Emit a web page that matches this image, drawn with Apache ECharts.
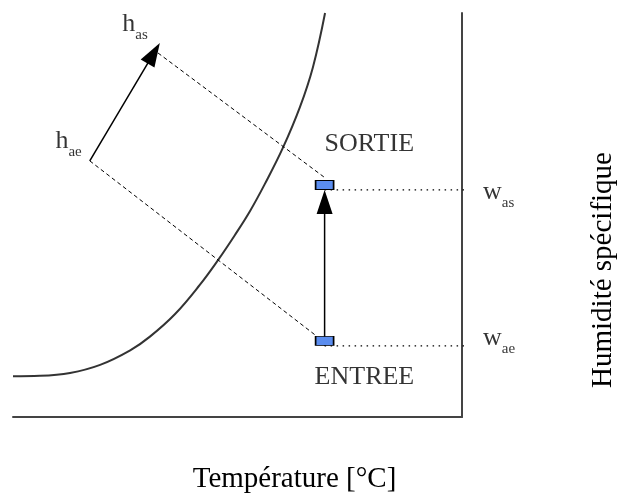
<!DOCTYPE html>
<html><head><meta charset="utf-8">
<script src="https://cdn.jsdelivr.net/npm/echarts@6/dist/echarts.min.js"></script>
<style>html,body{margin:0;padding:0;background:#fff}#c{width:618px;height:495px}</style>
</head><body><div id="c"></div>
<script>
// Saturation curve (temperature, specific humidity), schematic chart units
const saturationT = [0.0, 6.0, 12.7, 19.4, 26.1, 30.5, 36.1, 41.6, 45.7, 49.4, 52.8, 56.1, 60.1, 63.9, 66.8, 69.5];
const saturationW = [10.1, 10.2, 10.9, 12.9, 16.5, 19.9, 25.5, 32.7, 38.9, 45.0, 51.0, 57.7, 66.6, 76.7, 86.6, 100.0];
// Air states (same temperature)
const stateT = 69.4;
const wEntree = 17.6;
const wSortie = 56.2;
// Enthalpy points h_ae / h_as
const hEntree = [17.1, 63.4];
const hSortie = [32.7, 92.6];
// Constant-enthalpy dashed lines
const dashEntree = [[17.1, 63.4], [67.3, 20.3]];
const dashSortie = [[32.3, 90.1], [69.5, 59.2]];
// x where the humidity labels sit
const wLabelT = 102;

const FONT = "'Liberation Serif','Times New Roman',serif";
const rich = {
  m: { fontSize: 26, lineHeight: 26, fontFamily: FONT, color: '#000' },
  s: { fontSize: 15, lineHeight: 15, fontFamily: FONT, color: '#000', padding: [23, 0, 0, 0] }
};

const chart = echarts.init(document.getElementById('c'), null, { renderer: 'canvas' });
chart.setOption({
  animation: false,
  backgroundColor: '#fff',
  grid: { left: 13, right: 156, top: 13, bottom: 78, containLabel: false, outerBoundsMode: 'none' },
  xAxis: {
    type: 'value', min: 0, max: 100,
    name: 'Température [°C]', nameLocation: 'middle', nameGap: 48,
    nameTextStyle: { fontSize: 29, fontFamily: FONT, color: '#000', padding: [0, 0, 0, 114] },
    axisLine: { show: true, onZero: false, lineStyle: { color: '#444', width: 2 } },
    axisTick: { show: false }, axisLabel: { show: false }, splitLine: { show: false }
  },
  yAxis: {
    type: 'value', min: 0, max: 100, position: 'right',
    name: 'Humidité spécifique', nameLocation: 'middle', nameRotate: 90, nameGap: 127,
    nameTextStyle: { fontSize: 29, fontFamily: FONT, color: '#000', padding: [0, 110, 0, 0] },
    axisLine: { show: true, onZero: false, lineStyle: { color: '#444', width: 2 } },
    axisTick: { show: false }, axisLabel: { show: false }, splitLine: { show: false }
  },
  series: [
    {
      type: 'line', name: 'saturation', smooth: 0.4, clip: false, showSymbol: false, symbol: 'none',
      data: saturationT.map((t, i) => [t, saturationW[i]]),
      lineStyle: { color: '#333', width: 2 }
    },
    {
      type: 'line', clip: false, symbol: 'none', data: dashEntree,
      lineStyle: { color: '#000', width: 1, type: [4, 3] }
    },
    {
      type: 'line', clip: false, symbol: 'none', data: dashSortie,
      lineStyle: { color: '#000', width: 1, type: [4, 3] }
    },
    {
      type: 'line', clip: false, symbol: 'none', data: [[stateT, wSortie], [wLabelT, wSortie]],
      lineStyle: { color: '#000', width: 1.3, type: [1.5, 4.5] }
    },
    {
      type: 'line', clip: false, symbol: 'none', data: [[stateT, wEntree], [wLabelT, wEntree]],
      lineStyle: { color: '#000', width: 1.3, type: [1.5, 4.5] }
    },
    {
      type: 'custom', coordinateSystem: 'cartesian2d', clip: false, z: 4,
      data: [[hEntree[0], hEntree[1], hSortie[0], hSortie[1]], [stateT, wEntree, stateT, wSortie]],
      encode: { x: [0, 2], y: [1, 3] },
      renderItem: function (params, api) {
        const p1 = api.coord([api.value(0), api.value(1)]);
        const p2 = api.coord([api.value(2), api.value(3)]);
        const dx = p2[0] - p1[0], dy = p2[1] - p1[1];
        const L = Math.hypot(dx, dy), ux = dx / L, uy = dy / L;
        const len = 24, half = 8;
        const bx = p2[0] - ux * len, by = p2[1] - uy * len;
        return {
          type: 'group', children: [
            { type: 'line', shape: { x1: p1[0], y1: p1[1], x2: bx + ux * 2, y2: by + uy * 2 }, style: { stroke: '#000', lineWidth: 1.5 } },
            { type: 'polygon', shape: { points: [[p2[0], p2[1]], [bx - uy * half, by + ux * half], [bx + uy * half, by - ux * half]] }, style: { fill: '#000' } }
          ]
        };
      }
    },
    {
      type: 'scatter', z: 6, clip: false, symbol: 'rect', symbolSize: [18, 9], symbolOffset: [0, -5],
      data: [[stateT, wEntree], [stateT, wSortie]],
      itemStyle: { color: '#5B8DEF', borderColor: '#000', borderWidth: 1.2, opacity: 1 }
    },
    {
      type: 'scatter', z: 7, clip: false, symbolSize: 0, silent: true,
      data: [
        { value: hEntree, label: { show: true, position: 'left', distance: 8, offset: [0, -20], formatter: '{m|h}{s|ae}', rich: rich } },
        { value: hSortie, label: { show: true, position: 'left', distance: 12, offset: [0, -19], formatter: '{m|h}{s|as}', rich: rich } },
        { value: [stateT, wSortie], label: { show: true, position: 'inside', align: 'left', verticalAlign: 'middle', offset: [0, -46], formatter: 'SORTIE', fontSize: 26, fontFamily: FONT, color: '#000' } },
        { value: [stateT, wEntree], label: { show: true, position: 'inside', align: 'left', verticalAlign: 'middle', offset: [-10, 31], formatter: 'ENTREE', fontSize: 26, fontFamily: FONT, color: '#000' } },
        { value: [wLabelT, wSortie], label: { show: true, position: 'inside', align: 'left', verticalAlign: 'middle', offset: [12, 2], formatter: '{m|w}{s|as}', rich: rich } },
        { value: [wLabelT, wEntree], label: { show: true, position: 'inside', align: 'left', verticalAlign: 'middle', offset: [12, -8], formatter: '{m|w}{s|ae}', rich: rich } }
      ]
    }
  ]
});
</script>
</body></html>
